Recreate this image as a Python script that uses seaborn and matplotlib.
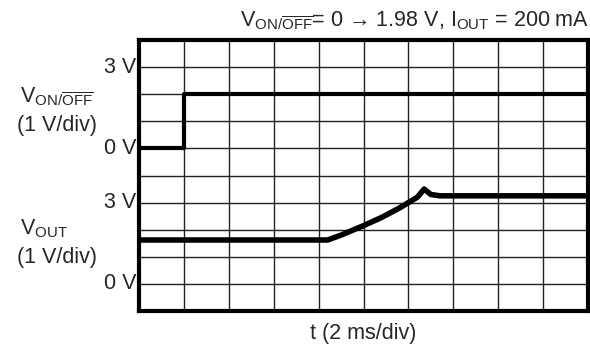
import numpy as np
import pandas as pd
import matplotlib
matplotlib.use("Agg")
import matplotlib.pyplot as plt
import seaborn as sns

# Veri (divizyon cinsinden zaman, volt cinsinden gerilim)
t_on = [0, 1.0, 1.0, 10]
v_on = [0.03, 0.03, 2.0, 2.0]

t_out = [0, 4.2, 4.5, 5.0, 5.4, 5.8, 6.1, 6.2, 6.35, 6.5, 6.7, 10]
v_out = [1.62, 1.62, 1.8, 2.15, 2.45, 2.8, 3.1, 3.2, 3.5, 3.3, 3.25, 3.25]

on_offset = 6   # V_ON/OFF 0 V çizgisi
out_offset = 1  # V_OUT 0 V çizgisi

tick_pos = [9, 6, 4, 1]
tick_lbl = ["3 V", "0 V", "3 V", "0 V"]

sns.set_style("white")
plt.rcParams['font.family'] = ['Liberation Sans', 'DejaVu Sans']
plt.rcParams['mathtext.fontset'] = 'custom'
plt.rcParams['mathtext.rm'] = 'Liberation Sans'
plt.rcParams['mathtext.it'] = 'Liberation Sans'

df_on = pd.DataFrame({"t": t_on, "v": np.array(v_on) + on_offset})
df_out = pd.DataFrame({"t": t_out, "v": np.array(v_out) + out_offset})

fig = plt.figure(figsize=(5.9, 3.49), dpi=100)
ax = fig.add_axes([139 / 590, 38 / 349, 449 / 590, 271 / 349])

sns.lineplot(data=df_on, x="t", y="v", ax=ax, color="black", lw=3,
             sort=False, estimator=None)
sns.lineplot(data=df_out, x="t", y="v", ax=ax, color="black", lw=4,
             sort=False, estimator=None)

ax.set_xlim(0, 10)
ax.set_ylim(0, 10)
ax.set_xticks(range(11))
ax.set_yticks(range(11))
ax.set_xticklabels([])
ax.set_yticklabels([])
ax.tick_params(length=0)
ax.grid(True, color="#222222", lw=1)
for s in ax.spines.values():
    s.set_linewidth(3)
    s.set_color("black")
ax.set_xlabel("")
ax.set_ylabel("")

fs = 15.5
for p, l in zip(tick_pos, tick_lbl):
    ax.text(-0.06, p, l, ha="right", va="center", fontsize=fs)

fig.text(20 / 590, 1 - 97 / 349, r"V$_{\mathrm{ON/\overline{OFF}}}$", fontsize=fs, ha="left", va="center")
fig.text(17 / 590, 1 - 126 / 349, "(1 V/div)", fontsize=fs, ha="left", va="center")
fig.text(20 / 590, 1 - 229 / 349, r"V$_{\mathrm{OUT}}$", fontsize=fs, ha="left", va="center")
fig.text(17 / 590, 1 - 258 / 349, "(1 V/div)", fontsize=fs, ha="left", va="center")

fig.text(589 / 590, 1 - 21 / 349,
         r"V$_{\mathrm{ON/\overline{OFF}}}$= 0 → 1.98 V, I$_{\mathrm{OUT}}$ = 200 mA",
         fontsize=fs, ha="right", va="center")
fig.text(363 / 590, 1 - 334 / 349, "t (2 ms/div)", fontsize=fs, ha="center", va="center")

fig.savefig("out.png", dpi=100)
